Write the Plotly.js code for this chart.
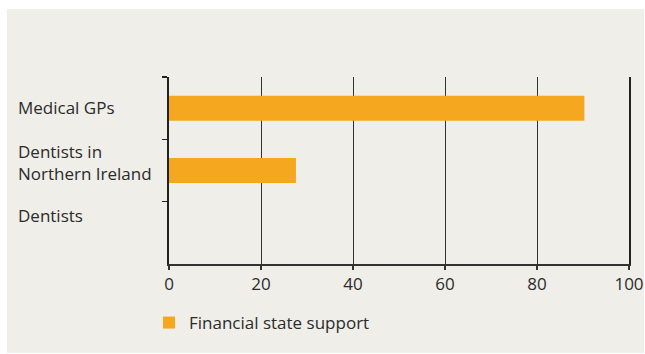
<!DOCTYPE html>
<html>
<head>
<meta charset="utf-8">
<script src="https://cdn.plot.ly/plotly-3.0.1.min.js"></script>
<style>html,body{margin:0;padding:0;background:#fff}#chart{width:645px;height:354px}</style>
</head>
<body>
<div id="chart"></div>
<script>
const categories = ["Medical GPs", "Dentists in<br>Northern Ireland", "Dentists"];
const seriesName = "Financial state support";
const values = [90.3, 27.6, 0];
const xTicks = [0, 20, 40, 60, 80, 100];

const W = 645, H = 354;
const L = 169, R = 16, T = 77, B = 90;
const pw = W - L - R, ph = H - T - B;
const px = v => (v - L) / pw;
const py = v => (H - B - v) / ph;
const FONT = '"Open Sans", "Noto Sans", sans-serif';
const labelShift = [1, 8, 17];

const trace = {
  type: 'bar',
  orientation: 'h',
  name: seriesName,
  y: categories,
  x: values,
  width: 0.4,
  marker: {color: '#f5a81f'},
  showlegend: true,
  hoverinfo: 'none'
};

const annotations = categories.map((c, i) => ({
  xref: 'paper', yref: 'y', x: px(16), y: c, yshift: labelShift[i],
  xanchor: 'left', yanchor: 'middle', align: 'left',
  text: c, showarrow: false,
  font: {family: FONT, size: 17, color: '#2b2b2b'}
}));

const layout = {
  width: W, height: H,
  margin: {l: L, r: R, t: T, b: B, pad: 0},
  paper_bgcolor: '#ffffff',
  plot_bgcolor: 'rgba(0,0,0,0)',
  font: {family: FONT, size: 17, color: '#2b2b2b'},
  shapes: [{
    type: 'rect', xref: 'paper', yref: 'paper', layer: 'below',
    x0: px(7), x1: px(644), y0: py(353), y1: py(9),
    fillcolor: '#efeee9', line: {width: 0}
  }],
  xaxis: {
    range: [0, 100], tickvals: xTicks, ticktext: xTicks.map(String),
    showgrid: true, gridcolor: '#333333', gridwidth: 1,
    showline: true, linecolor: '#333333', linewidth: 1.5,
    ticks: 'outside', ticklen: 4, tickcolor: '#333333', tickwidth: 1.5,
    zeroline: false, fixedrange: true,
    tickfont: {family: FONT, size: 17, color: '#2b2b2b'}
  },
  yaxis: {
    type: 'category', categoryorder: 'array', categoryarray: categories,
    range: [2.5, -0.5],
    showticklabels: false, showgrid: false, zeroline: false,
    showline: true, linecolor: '#222222', linewidth: 2, mirror: true,
    ticks: 'outside', tickson: 'boundaries', ticklen: 5, tickwidth: 1.5, tickcolor: '#222222',
    fixedrange: true
  },
  legend: {
    orientation: 'h', x: px(149), y: py(323), xanchor: 'left', yanchor: 'middle',
    bgcolor: 'rgba(0,0,0,0)', font: {family: FONT, size: 17, color: '#2b2b2b'},
    itemwidth: 30
  },
  annotations: annotations,
  bargap: 0.6
};

Plotly.newPlot('chart', [trace], layout, {displayModeBar: false, staticPlot: true});
</script>
</body>
</html>
